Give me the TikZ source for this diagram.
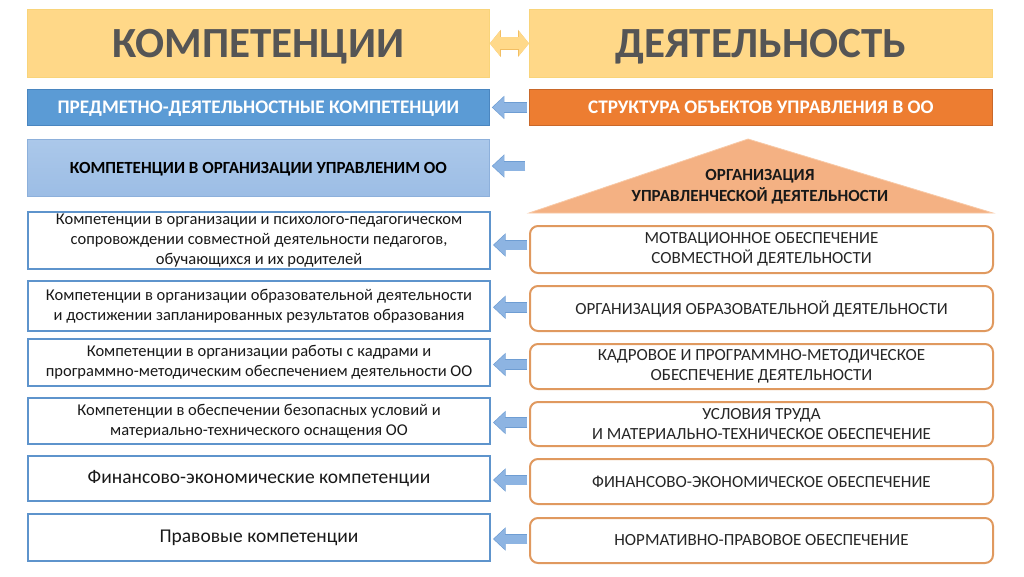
\documentclass[tikz,border=0pt]{standalone}
\usepackage{fontspec}
\setmainfont{Carlito}
\usetikzlibrary{arrows.meta,calc}
\definecolor{hdrfill}{HTML}{FFD888}
\definecolor{hdredge}{HTML}{F9D47A}
\definecolor{hdrtext}{HTML}{555555}
\definecolor{bluef}{HTML}{5B9BD5}
\definecolor{bluee}{HTML}{4A86C0}
\definecolor{orangef}{HTML}{ED7D31}
\definecolor{orangee}{HTML}{C9682A}
\definecolor{lbtop}{HTML}{ABC8EA}
\definecolor{lbbot}{HTML}{9CBDE5}
\definecolor{lbedge}{HTML}{8DB0DB}
\definecolor{trif}{HTML}{F4B183}
\definecolor{trie}{HTML}{F8C9A6}
\definecolor{arrf}{HTML}{8DB4E2}
\definecolor{arre}{HTML}{6E9DD3}
\definecolor{ledge}{HTML}{5E94CC}
\definecolor{redge}{HTML}{E0995F}
\definecolor{yarrf}{HTML}{FFD98A}
\definecolor{yarre}{HTML}{F2BE63}
\begin{document}
\begin{tikzpicture}[x=1pt,y=-1pt,
  box/.style={anchor=north west, inner sep=0pt, align=center},
  hdr/.style={box, fill=hdrfill, draw=hdredge, line width=0.8pt, minimum height=68pt,
    text=hdrtext, text depth=0pt, font=\fontsize{43}{46}\selectfont\bfseries},
  bar/.style={box, minimum height=36pt, text=white, text depth=0pt, font=\fontsize{19.2}{22}\selectfont\bfseries},
  lbox/.style={box, fill=white, draw=ledge, line width=2pt, minimum width=462pt,
    text=black!90, font=\fontsize{16.5}{20}\selectfont},
  rbox/.style={box, fill=white, draw=redge, line width=2pt, rounded corners=8pt, minimum width=463pt,
    text=black!85, font=\fontsize{17}{20}\selectfont},
  barrow/.style={line width=9pt, draw=arrf, -{Triangle[length=11pt,width=20pt]},
    shorten <=2pt, shorten >=3pt,
    preaction={draw=arre, line width=10.5pt, -{Triangle[length=12.5pt,width=22.5pt]},
      shorten <=2pt, shorten >=2pt}},
  yarrow/.style={line width=12pt, draw=yarrf,
    {Triangle[length=10pt,width=24pt]}-{Triangle[length=10pt,width=24pt]},
    preaction={draw=yarre, line width=13.5pt,
      {Triangle[length=11pt,width=26.5pt]}-{Triangle[length=11pt,width=26.5pt]}}}
]
\useasboundingbox (0,0) rectangle (1024,576);
\fill[white] (0,0) rectangle (1024,576);

% headers
\node[hdr, minimum width=462pt] (H1) at (27,9) {КОМПЕТЕНЦИИ};
\node[hdr, minimum width=463pt] (H2) at (529,9) {ДЕЯТЕЛЬНОСТЬ};
\draw[yarrow] (H2.west) -- (H1.east);

% second row
\node[bar, fill=bluef, draw=bluee, line width=0.8pt, minimum width=462pt] (B2L) at (27,89) {ПРЕДМЕТНО-ДЕЯТЕЛЬНОСТНЫЕ КОМПЕТЕНЦИИ};
\node[bar, fill=orangef, draw=orangee, line width=0.8pt, minimum width=463pt] (B2R) at (529,89) {СТРУКТУРА ОБЪЕКТОВ УПРАВЛЕНИЯ В ОО};

% third row
\node[box, top color=lbtop, bottom color=lbbot, draw=lbedge, line width=0.8pt, text depth=0pt,
  minimum width=462pt, minimum height=57pt, font=\fontsize{17}{20}\selectfont\bfseries]
  (B3L) at (27,139) {КОМПЕТЕНЦИИ В ОРГАНИЗАЦИИ УПРАВЛЕНИМ ОО};

% triangle
\coordinate (TA) at (748,139);
\coordinate (TL) at (529,213);
\coordinate (TR) at (993,213);
\filldraw[fill=trif, draw=trie, line width=0.8pt] (TA) -- (TR) -- (TL) -- cycle;
\node[inner sep=0pt, align=center, font=\fontsize{17}{21}\selectfont\bfseries, text=black!90]
  (T) at (760,187) {ОРГАНИЗАЦИЯ\\УПРАВЛЕНЧЕСКОЙ ДЕЯТЕЛЬНОСТИ};
\coordinate (A3) at (527,166);

% left boxes
\node[lbox, minimum height=57pt] (L4) at (27,211) {Компетенции в организации и психолого-педагогическом\\сопровождении совместной деятельности педагогов,\\обучающихся и их родителей};
\node[lbox, minimum height=50pt] (L5) at (27,280) {Компетенции в организации образовательной деятельности\\и достижении запланированных результатов образования};
\node[lbox, minimum height=47pt] (L6) at (27,338) {Компетенции в организации работы с кадрами и\\программно-методическим обеспечением деятельности ОО};
\node[lbox, minimum height=46pt] (L7) at (27,397) {Компетенции в обеспечении безопасных условий и\\материально-технического оснащения ОО};
\node[lbox, minimum height=45pt, font=\fontsize{19.5}{22}\selectfont] (L8) at (27,455) {Финансово-экономические компетенции};
\node[lbox, minimum height=47pt, font=\fontsize{19.5}{22}\selectfont] (L9) at (27,513) {Правовые компетенции};

% right boxes
\node[rbox, minimum height=47pt] (R4) at (529,225) {МОТВАЦИОННОЕ ОБЕСПЕЧЕНИЕ\\СОВМЕСТНОЙ ДЕЯТЕЛЬНОСТИ};
\node[rbox, minimum height=45pt] (R5) at (529,285) {ОРГАНИЗАЦИЯ ОБРАЗОВАТЕЛЬНОЙ ДЕЯТЕЛЬНОСТИ};
\node[rbox, minimum height=45pt] (R6) at (529,343) {КАДРОВОЕ И ПРОГРАММНО-МЕТОДИЧЕСКОЕ\\ОБЕСПЕЧЕНИЕ ДЕЯТЕЛЬНОСТИ};
\node[rbox, minimum height=44pt] (R7) at (529,401) {УСЛОВИЯ ТРУДА\\И МАТЕРИАЛЬНО-ТЕХНИЧЕСКОЕ ОБЕСПЕЧЕНИЕ};
\node[rbox, minimum height=45pt] (R8) at (529,458) {ФИНАНСОВО-ЭКОНОМИЧЕСКОЕ ОБЕСПЕЧЕНИЕ};
\node[rbox, minimum height=45pt] (R9) at (529,517) {НОРМАТИВНО-ПРАВОВОЕ ОБЕСПЕЧЕНИЕ};

% arrows
\draw[barrow] (B2R.west) -- (B2L.east);
\draw[barrow] (A3) -- (A3 -| B3L.east);
\foreach \k in {4,5,6,7,8,9}{
  \coordinate (m\k) at ($(L\k.east)!0.5!(R\k.west)$);
  \draw[barrow] (m\k -| R\k.west) -- (m\k -| L\k.east);
}
\end{tikzpicture}
\end{document}
